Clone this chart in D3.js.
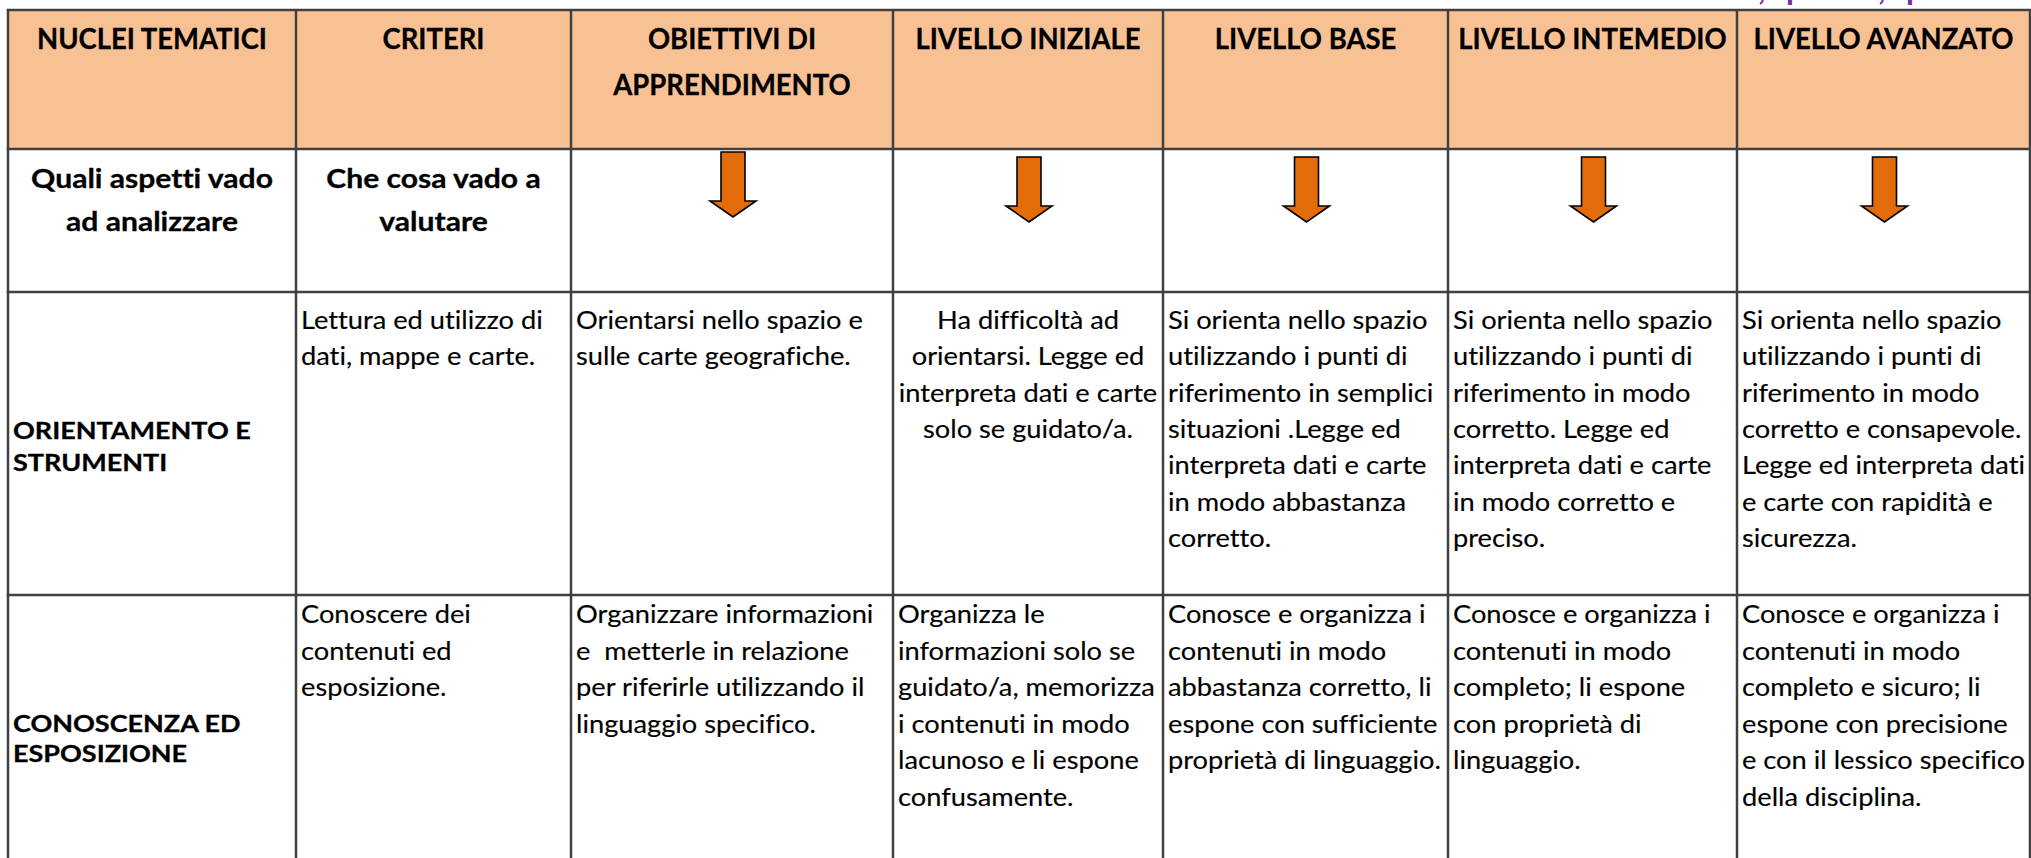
<!DOCTYPE html>
<html>
<head>
<meta charset="utf-8">
<script src="https://cdn.jsdelivr.net/npm/d3@7"></script>
<style>
  html, body { margin: 0; padding: 0; background: #ffffff; }
  svg { display: block; }
  text { font-family: Lato, "Open Sans", sans-serif; white-space: pre; font-variant-ligatures: none; font-feature-settings: "liga" 0, "clig" 0; }
</style>
</head>
<body>
<script>
// ---------------- DATA ----------------
const headers = [
  ["NUCLEI TEMATICI"],
  ["CRITERI"],
  ["OBIETTIVI DI", "APPRENDIMENTO"],
  ["LIVELLO INIZIALE"],
  ["LIVELLO BASE"],
  ["LIVELLO INTEMEDIO"],
  ["LIVELLO AVANZATO"]
];

const guideRow = [
  ["Quali aspetti vado", "ad analizzare"],
  ["Che cosa vado a", "valutare"]
];
const arrowColumns = [2, 3, 4, 5, 6];

const rowLabels = [
  ["ORIENTAMENTO E", "STRUMENTI"],
  ["CONOSCENZA ED", "ESPOSIZIONE"]
];

const orientamentoCells = [
  ["Lettura ed utilizzo di", "dati, mappe e carte."],
  ["Orientarsi nello spazio e", "sulle carte geografiche."],
  ["Ha difficoltà ad", "orientarsi. Legge ed", "interpreta dati e carte", "solo se guidato/a."],
  ["Si orienta nello spazio", "utilizzando i punti di", "riferimento in semplici", "situazioni .Legge ed", "interpreta dati e carte", "in modo abbastanza", "corretto."],
  ["Si orienta nello spazio", "utilizzando i punti di", "riferimento in modo", "corretto. Legge ed", "interpreta dati e carte", "in modo corretto e", "preciso."],
  ["Si orienta nello spazio", "utilizzando i punti di", "riferimento in modo", "corretto e consapevole.", "Legge ed interpreta dati", "e carte con rapidità e", "sicurezza."]
];
const orientamentoAlign = ["start", "start", "middle", "start", "start", "start"];

const conoscenzaCells = [
  ["Conoscere dei", "contenuti ed", "esposizione."],
  ["Organizzare informazioni", "e  metterle in relazione", "per riferirle utilizzando il", "linguaggio specifico."],
  ["Organizza le", "informazioni solo se", "guidato/a, memorizza", "i contenuti in modo", "lacunoso e li espone", "confusamente."],
  ["Conosce e organizza i", "contenuti in modo", "abbastanza corretto, li", "espone con sufficiente", "proprietà di linguaggio."],
  ["Conosce e organizza i", "contenuti in modo", "completo; li espone", "con proprietà di", "linguaggio."],
  ["Conosce e organizza i", "contenuti in modo", "completo e sicuro; li", "espone con precisione", "e con il lessico specifico", "della disciplina."]
];
const conoscenzaAlign = ["start", "start", "start", "start", "start", "start"];

const topMarks = [",", "p", ",", "p"];

// ---------------- LAYOUT ----------------
const W = 2031, H = 858;
const colEdges = [8, 296, 571, 893, 1163, 1448, 1737, 2030];
const rowEdges = [10, 149, 292, 595, 880];

const styles = {
  header: { weight: 700, size: 28, ref: "NUCLEI TEMATICI", w: 230, stroke: 0.3 },
  guide:  { weight: 700, size: 26.5, ref: "Quali aspetti vado", w: 242, stroke: 0.3 },
  label:  { weight: 700, size: 23.5, ref: "ORIENTAMENTO E", w: 238, stroke: 0.3 },
  body:   { weight: 400, size: 25.5, ref: "Lettura ed utilizzo di", w: 242, stroke: 0.15 }
};

const svg = d3.select("body").append("svg")
  .attr("width", W).attr("height", H);

const x = d3.scaleOrdinal().domain(d3.range(7)).range(colEdges.slice(0, 7));
const colW = i => colEdges[i + 1] - colEdges[i];
const colC = i => x(i) + colW(i) / 2;

// horizontal stretch factor per style so the text widths match the reference
const probe = svg.append("text").attr("x", -1000).attr("y", -1000);
Object.values(styles).forEach(s => {
  probe.attr("font-size", s.size).attr("font-weight", s.weight).text(s.ref);
  const m = probe.node().getComputedTextLength();
  s.sx = m > 0 ? s.w / m : 1;
});
probe.remove();

// header background
svg.append("rect")
  .attr("x", colEdges[0]).attr("y", rowEdges[0])
  .attr("width", colEdges[7] - colEdges[0]).attr("height", rowEdges[1] - rowEdges[0])
  .attr("fill", "#F8C193");

function drawLines(g, lines, style, xPos, yFirst, pitch, anchor) {
  const s = styles[style];
  lines.forEach((t, k) => {
    g.append("text")
      .attr("transform", `translate(${xPos},${yFirst + k * pitch}) scale(${s.sx},1)`)
      .attr("font-size", s.size)
      .attr("font-weight", s.weight)
      .attr("fill", "#000")
      .attr("stroke", "#000")
      .attr("stroke-width", s.stroke)
      .attr("text-anchor", anchor)
      .text(t);
  });
}

const textG = svg.append("g");

// header row
headers.forEach((lines, i) => {
  drawLines(textG, lines, "header", colC(i), rowEdges[0] + 39, 46, "middle");
});

// guide row
guideRow.forEach((lines, i) => {
  drawLines(textG, lines, "guide", colC(i), rowEdges[1] + 39, 42.5, "middle");
});

// arrows
const arrowG = svg.append("g");
arrowColumns.forEach((c, k) => {
  const cx = colC(c) + 1;
  const top = rowEdges[1] + (k === 0 ? 3 : 8);
  const shaftH = 49, headH = 16, sw = 12, hw = 23;
  const p = d3.path();
  p.moveTo(cx - sw, top);
  p.lineTo(cx + sw, top);
  p.lineTo(cx + sw, top + shaftH);
  p.lineTo(cx + hw, top + shaftH);
  p.lineTo(cx, top + shaftH + headH);
  p.lineTo(cx - hw, top + shaftH);
  p.lineTo(cx - sw, top + shaftH);
  p.closePath();
  arrowG.append("path")
    .attr("d", p.toString())
    .attr("fill", "#E36C0A")
    .attr("stroke", "#000")
    .attr("stroke-width", 1.6)
    .attr("stroke-linejoin", "miter");
});

// row labels
drawLines(textG, rowLabels[0], "label", colEdges[0] + 5, 439, 32, "start");
drawLines(textG, rowLabels[1], "label", colEdges[0] + 5, 732, 30, "start");

// body rows
function bodyRow(cells, aligns, yFirst, pitch) {
  cells.forEach((lines, j) => {
    const c = j + 1;
    const a = aligns[j];
    const xp = a === "middle" ? colC(c) : x(c) + 5;
    drawLines(textG, lines, "body", xp, yFirst, pitch, a);
  });
}
bodyRow(orientamentoCells, orientamentoAlign, 329, 36.3);
bodyRow(conoscenzaCells, conoscenzaAlign, 623, 36.5);

// grid
const gridG = svg.append("g").attr("stroke", "#404040").attr("stroke-width", 2.5).attr("fill", "none");
colEdges.forEach(cx => {
  gridG.append("line").attr("x1", cx).attr("x2", cx)
    .attr("y1", rowEdges[0]).attr("y2", rowEdges[rowEdges.length - 1]);
});
rowEdges.slice(0, 4).forEach(ry => {
  gridG.append("line").attr("x1", colEdges[0] - 1.25).attr("x2", colEdges[7] + 1.25)
    .attr("y1", ry).attr("y2", ry);
});

// purple text cut off at the very top edge (as in the reference)
const markX = [1758, 1786, 1878, 1906];
topMarks.forEach((t, i) => {
  svg.append("text")
    .attr("x", markX[i]).attr("y", 0)
    .attr("font-size", 32)
    .attr("font-weight", 700)
    .attr("fill", "#7030A0")
    .text(t);
});
</script>
</body>
</html>
